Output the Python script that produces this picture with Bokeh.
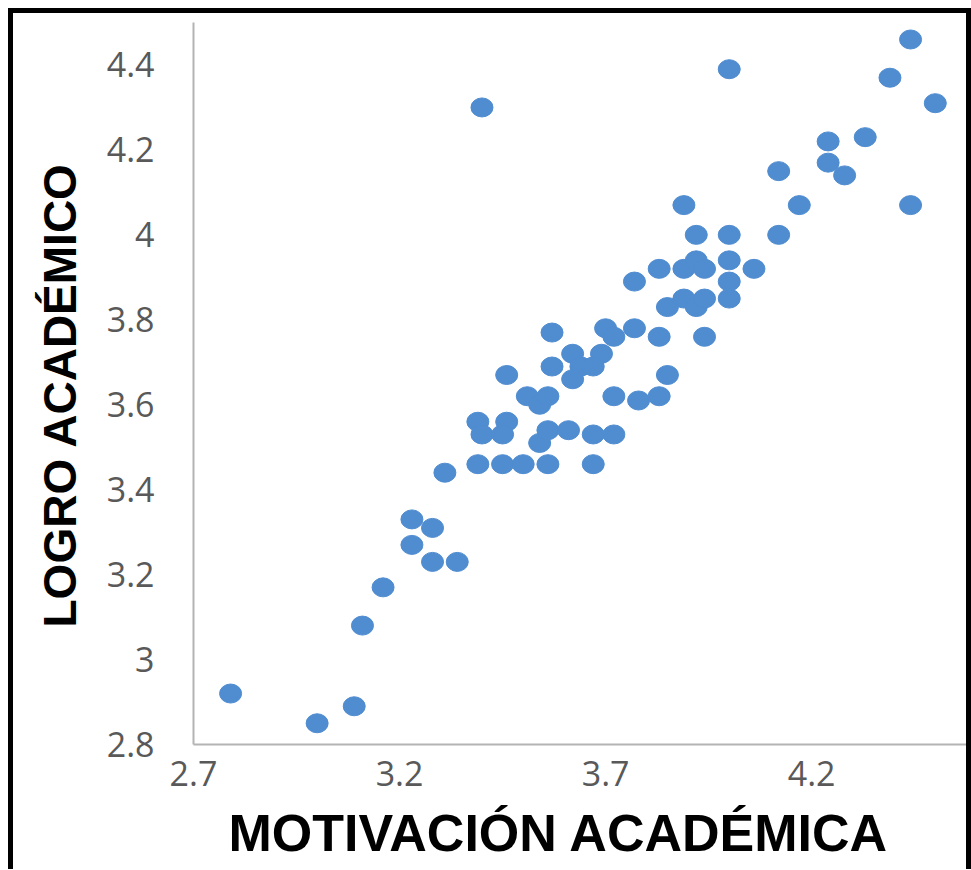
from bokeh.plotting import figure
from bokeh.models import Range1d, FixedTicker, CustomJSTickFormatter, Title, ColumnDataSource
from bokeh.embed import file_html
from bokeh.resources import INLINE

motivacion = [2.79, 3.00, 3.09, 3.11, 3.16, 3.23, 3.28, 3.23, 3.28, 3.34,
              3.31, 3.39, 3.40, 3.46, 3.45, 3.39, 3.45, 3.50, 3.56, 3.67,
              3.54, 3.56, 3.61, 3.67, 3.72, 3.46, 3.51, 3.54, 3.56, 3.57,
              3.57, 3.40, 3.62, 3.69, 3.64, 3.67, 3.62, 3.70, 3.72, 3.77,
              3.83, 3.94, 3.72, 3.78, 3.83, 3.85, 3.85, 3.89, 3.92, 3.94,
              4.00, 4.00, 3.77, 3.83, 3.89, 3.92, 3.94, 4.00, 4.06, 3.92,
              4.00, 4.12, 3.89, 4.17, 4.44, 4.12, 4.24, 4.24, 4.28, 4.33,
              4.39, 4.44, 4.50, 4.00]
logro = [2.92, 2.85, 2.89, 3.08, 3.17, 3.33, 3.31, 3.27, 3.23, 3.23,
         3.44, 3.56, 3.53, 3.56, 3.53, 3.46, 3.46, 3.46, 3.46, 3.46,
         3.51, 3.54, 3.54, 3.53, 3.53, 3.67, 3.62, 3.60, 3.62, 3.77,
         3.69, 4.30, 3.72, 3.72, 3.69, 3.69, 3.66, 3.78, 3.76, 3.78,
         3.76, 3.76, 3.62, 3.61, 3.62, 3.67, 3.83, 3.85, 3.83, 3.85,
         3.85, 3.89, 3.89, 3.92, 3.92, 3.94, 3.92, 3.94, 3.92, 4.00,
         4.00, 4.00, 4.07, 4.07, 4.07, 4.15, 4.22, 4.17, 4.14, 4.23,
         4.37, 4.46, 4.31, 4.39]

x_ticks = [2.7, 3.2, 3.7, 4.2]
y_ticks = [2.8, 3.0, 3.2, 3.4, 3.6, 3.8, 4.0, 4.2, 4.4]
x_title = "MOTIVACIÓN  ACADÉMICA"
y_title = "LOGRO  ACADÉMICO"

source = ColumnDataSource(data=dict(x=motivacion, y=logro))

p = figure(width=953, height=856, output_backend="svg", toolbar_location=None,
           x_range=Range1d(2.7, 4.60), y_range=Range1d(2.8, 4.5),
           min_border_left=180, min_border_right=0, min_border_top=9,
           min_border_bottom=127, background_fill_color="white",
           border_fill_color="white")
p.styles = {"border-top": "5px solid black", "border-left": "5px solid black",
            "border-right": "5px solid black", "box-sizing": "content-box",
            "margin-left": "8px", "margin-top": "8px"}

p.ellipse(x="x", y="y", width=22, height=19, width_units="screen",
          height_units="screen", source=source, fill_color="#4f8cd0",
          line_color="#4f8cd0", line_width=1)

p.xgrid.visible = False
p.ygrid.visible = False
p.outline_line_color = None

fmt = CustomJSTickFormatter(code="return String(Math.round(tick*10)/10)")
for ax, ticks, standoff in ((p.xaxis[0], x_ticks, 10), (p.yaxis[0], y_ticks, 33)):
    ax.ticker = FixedTicker(ticks=ticks)
    ax.formatter = fmt
    ax.major_tick_line_color = None
    ax.minor_tick_line_color = None
    ax.axis_line_color = "#b4b4b4"
    ax.axis_line_width = 2
    ax.major_label_text_font = "Open Sans"
    ax.major_label_text_font_size = "34px"
    ax.major_label_text_color = "#595959"
    ax.major_label_standoff = standoff

p.add_layout(Title(text=x_title, align="left", offset=35, standoff=26,
                   text_font="Liberation Sans", text_font_size="52px",
                   text_font_style="bold", text_color="black"), "below")
p.add_layout(Title(text=y_title, align="left", offset=117, standoff=35,
                   text_font="Liberation Sans", text_font_size="46px",
                   text_font_style="bold", text_color="black"), "left")

open("out.html", "w").write(file_html(p, INLINE))
